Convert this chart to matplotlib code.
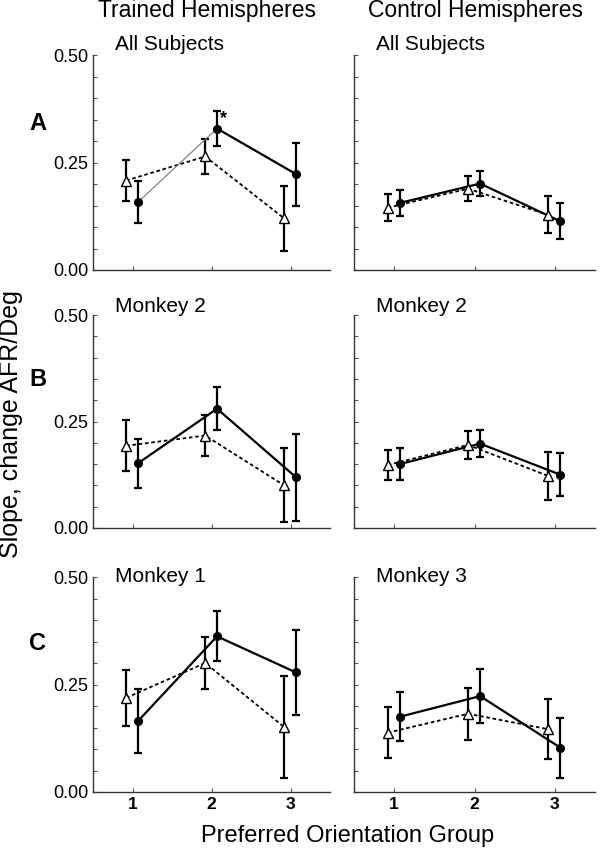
import matplotlib.pyplot as plt
import numpy as np

plt.rcParams['font.family'] = ['Liberation Sans', 'DejaVu Sans']

groups = [1, 2, 3]
col_titles = ["Trained Hemispheres", "Control Hemispheres"]
row_letters = ["A", "B", "C"]
sub_titles = [["All Subjects", "All Subjects"],
              ["Monkey 2", "Monkey 2"],
              ["Monkey 1", "Monkey 3"]]

# filled circles (solid line) and open triangles (dotted line), mean and error
a_trained_filled = [0.158, 0.329, 0.223]
a_trained_filled_err = [0.048, 0.041, 0.073]
a_trained_open = [0.208, 0.264, 0.120]
a_trained_open_err = [0.047, 0.041, 0.076]
a_control_filled = [0.156, 0.201, 0.113]
a_control_filled_err = [0.031, 0.029, 0.042]
a_control_open = [0.145, 0.189, 0.128]
a_control_open_err = [0.031, 0.029, 0.043]

b_trained_filled = [0.152, 0.280, 0.119]
b_trained_filled_err = [0.058, 0.051, 0.102]
b_trained_open = [0.193, 0.217, 0.100]
b_trained_open_err = [0.060, 0.049, 0.087]
b_control_filled = [0.150, 0.198, 0.125]
b_control_filled_err = [0.038, 0.032, 0.050]
b_control_open = [0.148, 0.195, 0.122]
b_control_open_err = [0.035, 0.033, 0.056]

c_trained_filled = [0.165, 0.362, 0.278]
c_trained_filled_err = [0.075, 0.058, 0.099]
c_trained_open = [0.219, 0.300, 0.151]
c_trained_open_err = [0.065, 0.061, 0.118]
c_control_filled = [0.175, 0.223, 0.103]
c_control_filled_err = [0.057, 0.062, 0.070]
c_control_open = [0.138, 0.182, 0.146]
c_control_open_err = [0.060, 0.060, 0.070]

panels = [
    [(a_trained_filled, a_trained_filled_err, a_trained_open, a_trained_open_err),
     (a_control_filled, a_control_filled_err, a_control_open, a_control_open_err)],
    [(b_trained_filled, b_trained_filled_err, b_trained_open, b_trained_open_err),
     (b_control_filled, b_control_filled_err, b_control_open, b_control_open_err)],
    [(c_trained_filled, c_trained_filled_err, c_trained_open, c_trained_open_err),
     (c_control_filled, c_control_filled_err, c_control_open, c_control_open_err)],
]

W, H = 600, 852
fig = plt.figure(figsize=(6, 8.52), dpi=100)

col_x = [(93, 330), (354, 595)]
row_y = [(55, 270), (315, 528), (577, 792)]
sub_y = [44, 306, 577]
letter_y = [123, 380, 643]

yt = np.arange(0, 0.501, 0.05)
yt_labels = {0: '0.00', 5: '0.25', 10: '0.50'}

x = np.array(groups, dtype=float)
for r in range(3):
    for c in range(2):
        x0, x1 = col_x[c]
        y0, y1 = row_y[r]
        ax = fig.add_axes([x0 / W, 1 - y1 / H, (x1 - x0) / W, (y1 - y0) / H])
        filled, filled_err, opn, opn_err = panels[r][c]
        xf = x + 0.07
        xo = x - 0.08

        # open triangles, dotted
        ax.errorbar(xo, opn, yerr=opn_err, fmt='none', ecolor='black',
                    elinewidth=1.6, capsize=3, capthick=1.6, zorder=2)
        ax.plot(xo, opn, color='black', lw=1.3, ls=(0, (2, 1.5)), zorder=3)
        ax.plot(xo, opn, ls='none', marker='^', ms=6.5, mfc='white',
                mec='black', mew=1.0, zorder=5)

        # filled circles, solid
        ax.errorbar(xf, filled, yerr=filled_err, fmt='none', ecolor='black',
                    elinewidth=1.6, capsize=3, capthick=1.6, zorder=2)
        if r == 0 and c == 0:
            ax.plot(xf[:2], filled[:2], color='#777777', lw=0.8, zorder=3)
            ax.plot(xf[1:], filled[1:], color='black', lw=1.6, zorder=3)
            ax.text(2.15, 0.352, '*', fontsize=13, fontweight='bold',
                    ha='center', va='center')
        else:
            ax.plot(xf, filled, color='black', lw=1.6, zorder=3)
        ax.plot(xf, filled, ls='none', marker='o', ms=5.5, mfc='black',
                mec='black', zorder=5)

        ax.set_xlim(0.5, 3.5)
        ax.set_ylim(0, 0.5)
        for s in ['top', 'right']:
            ax.spines[s].set_visible(False)
        for s in ['left', 'bottom']:
            ax.spines[s].set_color('#333333')
            ax.spines[s].set_linewidth(1.0)
        ax.set_xticks(groups)
        ax.set_yticks(yt)
        ax.tick_params(direction='in', length=3, color='#555555', width=0.8)
        if r == 2:
            ax.set_xticklabels([str(g) for g in groups], fontsize=12.5,
                               fontweight='bold')
        else:
            ax.set_xticklabels([])
        if c == 0:
            ax.set_yticklabels([yt_labels.get(i, '') for i in range(len(yt))],
                               fontsize=13)
        else:
            ax.set_yticklabels([])

        fig.text((x0 + 22) / W, 1 - sub_y[r] / H, sub_titles[r][c],
                 fontsize=15, ha='left', va='center')

    fig.text(38 / W, 1 - letter_y[r] / H, row_letters[r], fontsize=17,
             fontweight='bold', ha='center', va='center')

fig.text(207 / W, 1 - 11 / H, col_titles[0], fontsize=16.5, ha='center', va='center')
fig.text(476 / W, 1 - 11 / H, col_titles[1], fontsize=16.5, ha='center', va='center')
fig.text(11 / W, 1 - 424 / H, "Slope, change AFR/Deg", fontsize=18,
         rotation=90, ha='center', va='center')
fig.text(348 / W, 1 - 836 / H, "Preferred Orientation Group", fontsize=17,
         ha='center', va='center')

fig.savefig('out.png', dpi=100)
